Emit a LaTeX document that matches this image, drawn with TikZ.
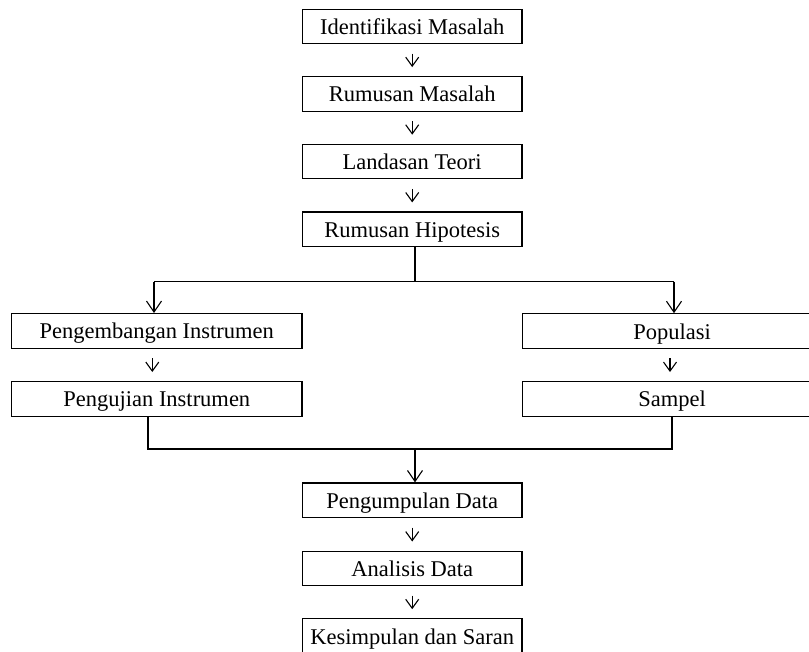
\documentclass[tikz,border=0pt]{standalone}
\usepackage{fontspec}
\setmainfont{Liberation Serif}
\usetikzlibrary{arrows.meta,calc}
\begin{document}
\begin{tikzpicture}[x=1pt,y=-1pt,
  box/.style={draw,line width=1.1pt,rectangle,inner sep=0pt,minimum height=34.5pt,
    text height=18pt,text depth=2pt,
    font=\fontsize{22.5}{25}\selectfont},
  midbox/.style={box,minimum width=219.5pt},
  leftbox/.style={box,minimum width=290.3pt},
  rightbox/.style={box,minimum width=298.6pt},
  smallarrow/.style={line width=1.1pt,-{Straight Barb[length=9pt,width=13pt,line width=1.1pt]},shorten <=9.5pt,shorten >=9pt},
  bigarrow/.style={line width=1.1pt,-{Straight Barb[length=11pt,width=15pt,line width=1.1pt]}},
  conn/.style={line width=1.1pt}]
\useasboundingbox (0,0) rectangle (809,651);
\fill[white] (0,0) rectangle (809,651);
\node[midbox] (id) at (412.2,26.3) {Identifikasi Masalah};
\node[midbox] (rm) at (412.2,93.9) {Rumusan Masalah};
\node[midbox] (lt) at (412.2,161.5) {Landasan Teori};
\node[midbox] (rh) at (412.2,229.2) {Rumusan Hipotesis};
\node[leftbox] (pe) at (156.8,330.8) {Pengembangan Instrumen};
\node[leftbox] (pu) at (156.8,398.8) {Pengujian Instrumen};
\node[rightbox] (po) at (672,331) {Populasi};
\node[rightbox] (sa) at (672,398.8) {Sampel};
\node[midbox] (pd) at (412.2,500.2) {Pengumpulan Data};
\node[midbox] (ad) at (412.2,568.3) {Analisis Data};
\node[midbox] (ks) at (412.2,636) {Kesimpulan dan Saran};
% small arrows
\draw[smallarrow] (id.south) -- (rm.north);
\draw[smallarrow] (rm.south) -- (lt.north);
\draw[smallarrow] (lt.south) -- (rh.north);
\draw[smallarrow] ([xshift=-4.5pt]pe.south) -- ([xshift=-4.5pt]pu.north);
\draw[smallarrow] ([xshift=-2pt]po.south) -- ([xshift=-2pt]sa.north);
\draw[smallarrow] (pd.south) -- (ad.north);
\draw[smallarrow] (ad.south) -- (ks.north);
% split
\coordinate (tl) at (154,281.7);
\coordinate (tr) at (674,281.7);
\coordinate (hs) at ([xshift=2.8pt]rh.south);
\draw[conn] (hs) -- (hs |- tl);
\draw[conn] (tl) -- (tr);
\draw[bigarrow] (tl) -- (tl |- pe.north);
\draw[bigarrow] (tr) -- (tr |- po.north);
% merge
\coordinate (bl) at ([xshift=-8.8pt]pu.south);
\coordinate (br) at (sa.south);
\coordinate (bm) at (415,449);
\draw[conn] (bl) -- (bl |- bm) -| (br);
\draw[bigarrow] (bm) -- (bm |- pd.north);
\end{tikzpicture}
\end{document}
